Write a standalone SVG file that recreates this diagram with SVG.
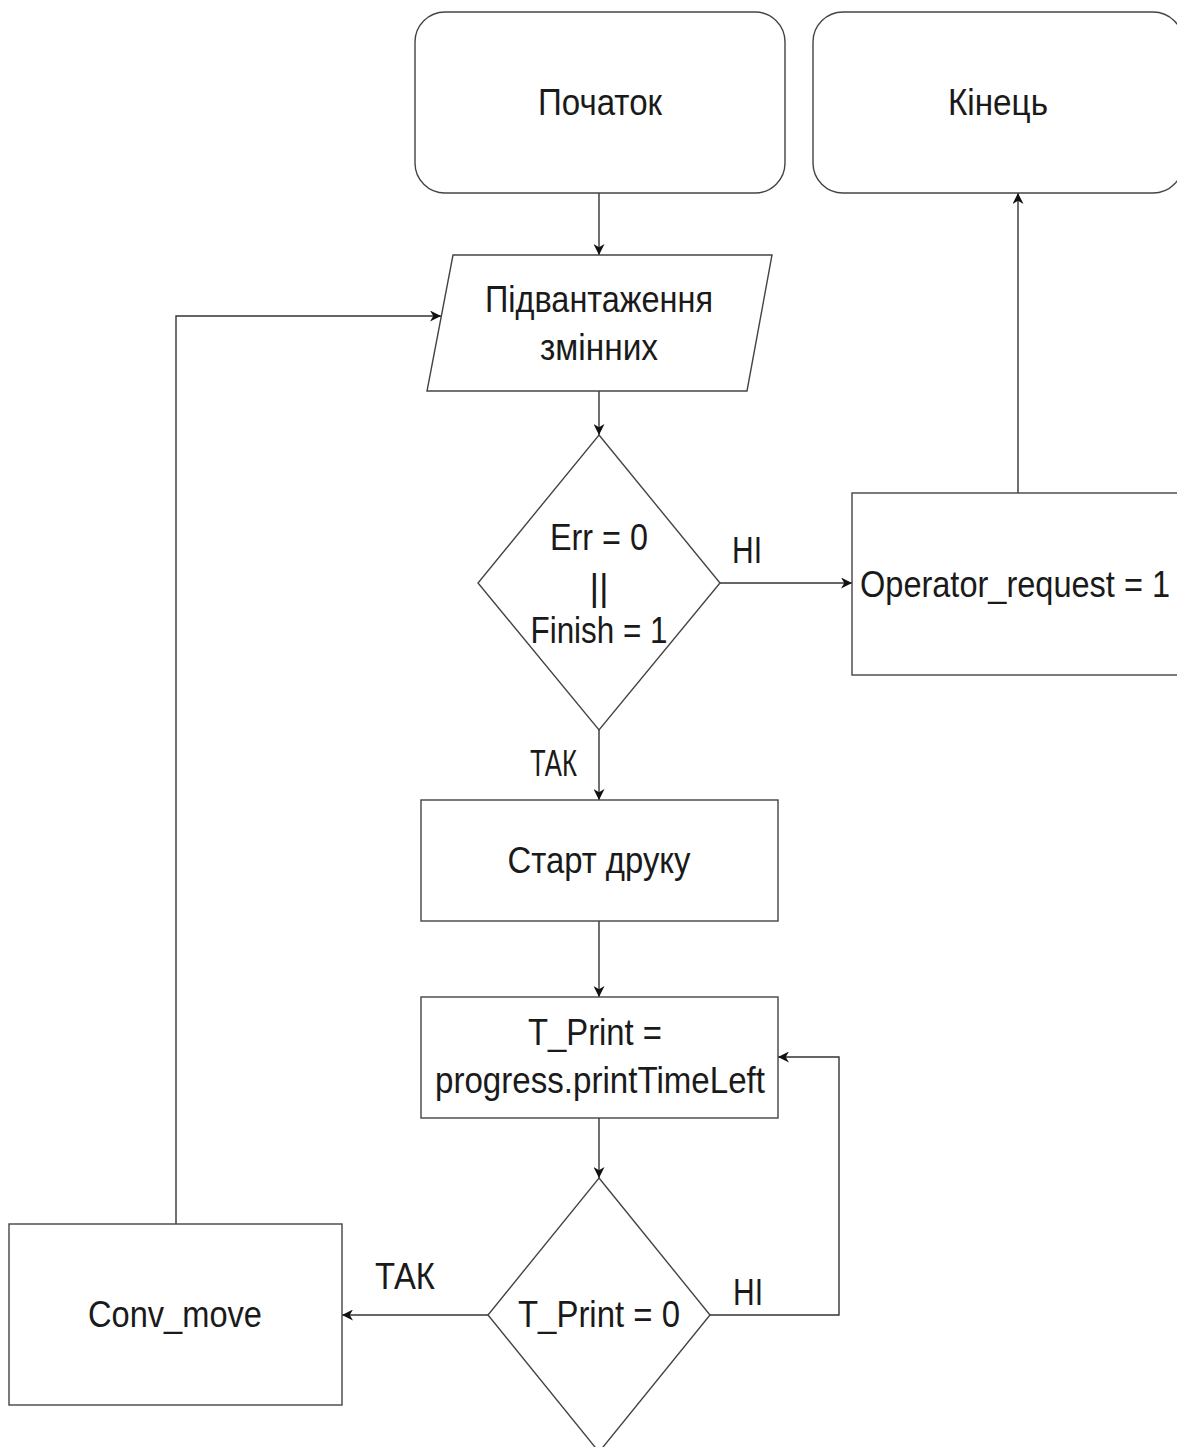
<svg xmlns="http://www.w3.org/2000/svg" width="1177" height="1447" viewBox="0 0 1177 1447">
<style>
.shape{fill:#fff;stroke:#444;stroke-width:1.4}
.conn{fill:none;stroke:#333;stroke-width:1.4}
text{font-family:"Liberation Sans",Arial,sans-serif;font-size:37px;fill:#1a1a1a;text-anchor:middle}
.lbl{text-anchor:start}
</style>
<defs>
<marker id="arr" viewBox="0 0 10 10" refX="10" refY="5" markerWidth="11" markerHeight="11" markerUnits="userSpaceOnUse" orient="auto">
<path d="M0,0 L10,5 L0,10 L3,5 z" fill="#111"/>
</marker>
</defs>
<rect width="1177" height="1447" fill="#fff"/>
<g id="connectors">
<path class="conn" d="M599,193 V255" marker-end="url(#arr)"/>
<path class="conn" d="M599,391 V435" marker-end="url(#arr)"/>
<path class="conn" d="M720,583 H852" marker-end="url(#arr)"/>
<path class="conn" d="M1018,493 V193" marker-end="url(#arr)"/>
<path class="conn" d="M599,730 V800" marker-end="url(#arr)"/>
<path class="conn" d="M599,921 V997" marker-end="url(#arr)"/>
<path class="conn" d="M599,1118 V1178" marker-end="url(#arr)"/>
<path class="conn" d="M710,1315 H839 V1057 H778" marker-end="url(#arr)"/>
<path class="conn" d="M488,1315 H342" marker-end="url(#arr)"/>
<path class="conn" d="M176,1224 V316 H441" marker-end="url(#arr)"/>
<text class="lbl" x="732" y="563" textLength="30" lengthAdjust="spacingAndGlyphs">НІ</text>
<text class="lbl" x="530" y="776" textLength="47" lengthAdjust="spacingAndGlyphs">ТАК</text>
<text class="lbl" x="733" y="1305" textLength="30" lengthAdjust="spacingAndGlyphs">НІ</text>
<text class="lbl" x="375" y="1289" textLength="60" lengthAdjust="spacingAndGlyphs">ТАК</text>
</g>
<g id="start">
<rect class="shape" x="415" y="12" width="370" height="181" rx="30" ry="30"/>
<text x="600" y="115" textLength="124" lengthAdjust="spacingAndGlyphs">Початок</text>
</g>
<g id="end">
<rect class="shape" x="813" y="12" width="370" height="181" rx="30" ry="30"/>
<text x="998" y="115" textLength="100" lengthAdjust="spacingAndGlyphs">Кінець</text>
</g>
<g id="load">
<polygon class="shape" points="453,255 772,255 747,391 427,391"/>
<text x="599" y="312" textLength="228" lengthAdjust="spacingAndGlyphs">Підвантаження</text>
<text x="599" y="360" textLength="118" lengthAdjust="spacingAndGlyphs">змінних</text>
</g>
<g id="check">
<polygon class="shape" points="599,435 720,583 599,730 478,583"/>
<text x="599" y="550" textLength="98" lengthAdjust="spacingAndGlyphs">Err = 0</text>
<text x="599" y="600">||</text>
<text x="599" y="643" textLength="137" lengthAdjust="spacingAndGlyphs">Finish = 1</text>
</g>
<g id="operator">
<rect class="shape" x="852" y="493" width="332" height="182"/>
<text x="1015" y="597" textLength="310" lengthAdjust="spacingAndGlyphs">Operator_request = 1</text>
</g>
<g id="startprint">
<rect class="shape" x="421" y="800" width="357" height="121"/>
<text x="599" y="873" textLength="183" lengthAdjust="spacingAndGlyphs">Старт друку</text>
</g>
<g id="tprint">
<rect class="shape" x="421" y="997" width="357" height="121"/>
<text x="595" y="1045" textLength="134" lengthAdjust="spacingAndGlyphs">T_Print =</text>
<text x="600" y="1093" textLength="330" lengthAdjust="spacingAndGlyphs">progress.printTimeLeft</text>
</g>
<g id="check2">
<polygon class="shape" points="599,1178 710,1315 599,1452 488,1315"/>
<text x="599" y="1327" textLength="162" lengthAdjust="spacingAndGlyphs">T_Print = 0</text>
</g>
<g id="conv">
<rect class="shape" x="9" y="1224" width="333" height="181"/>
<text x="175" y="1327" textLength="174" lengthAdjust="spacingAndGlyphs">Conv_move</text>
</g>
</svg>
